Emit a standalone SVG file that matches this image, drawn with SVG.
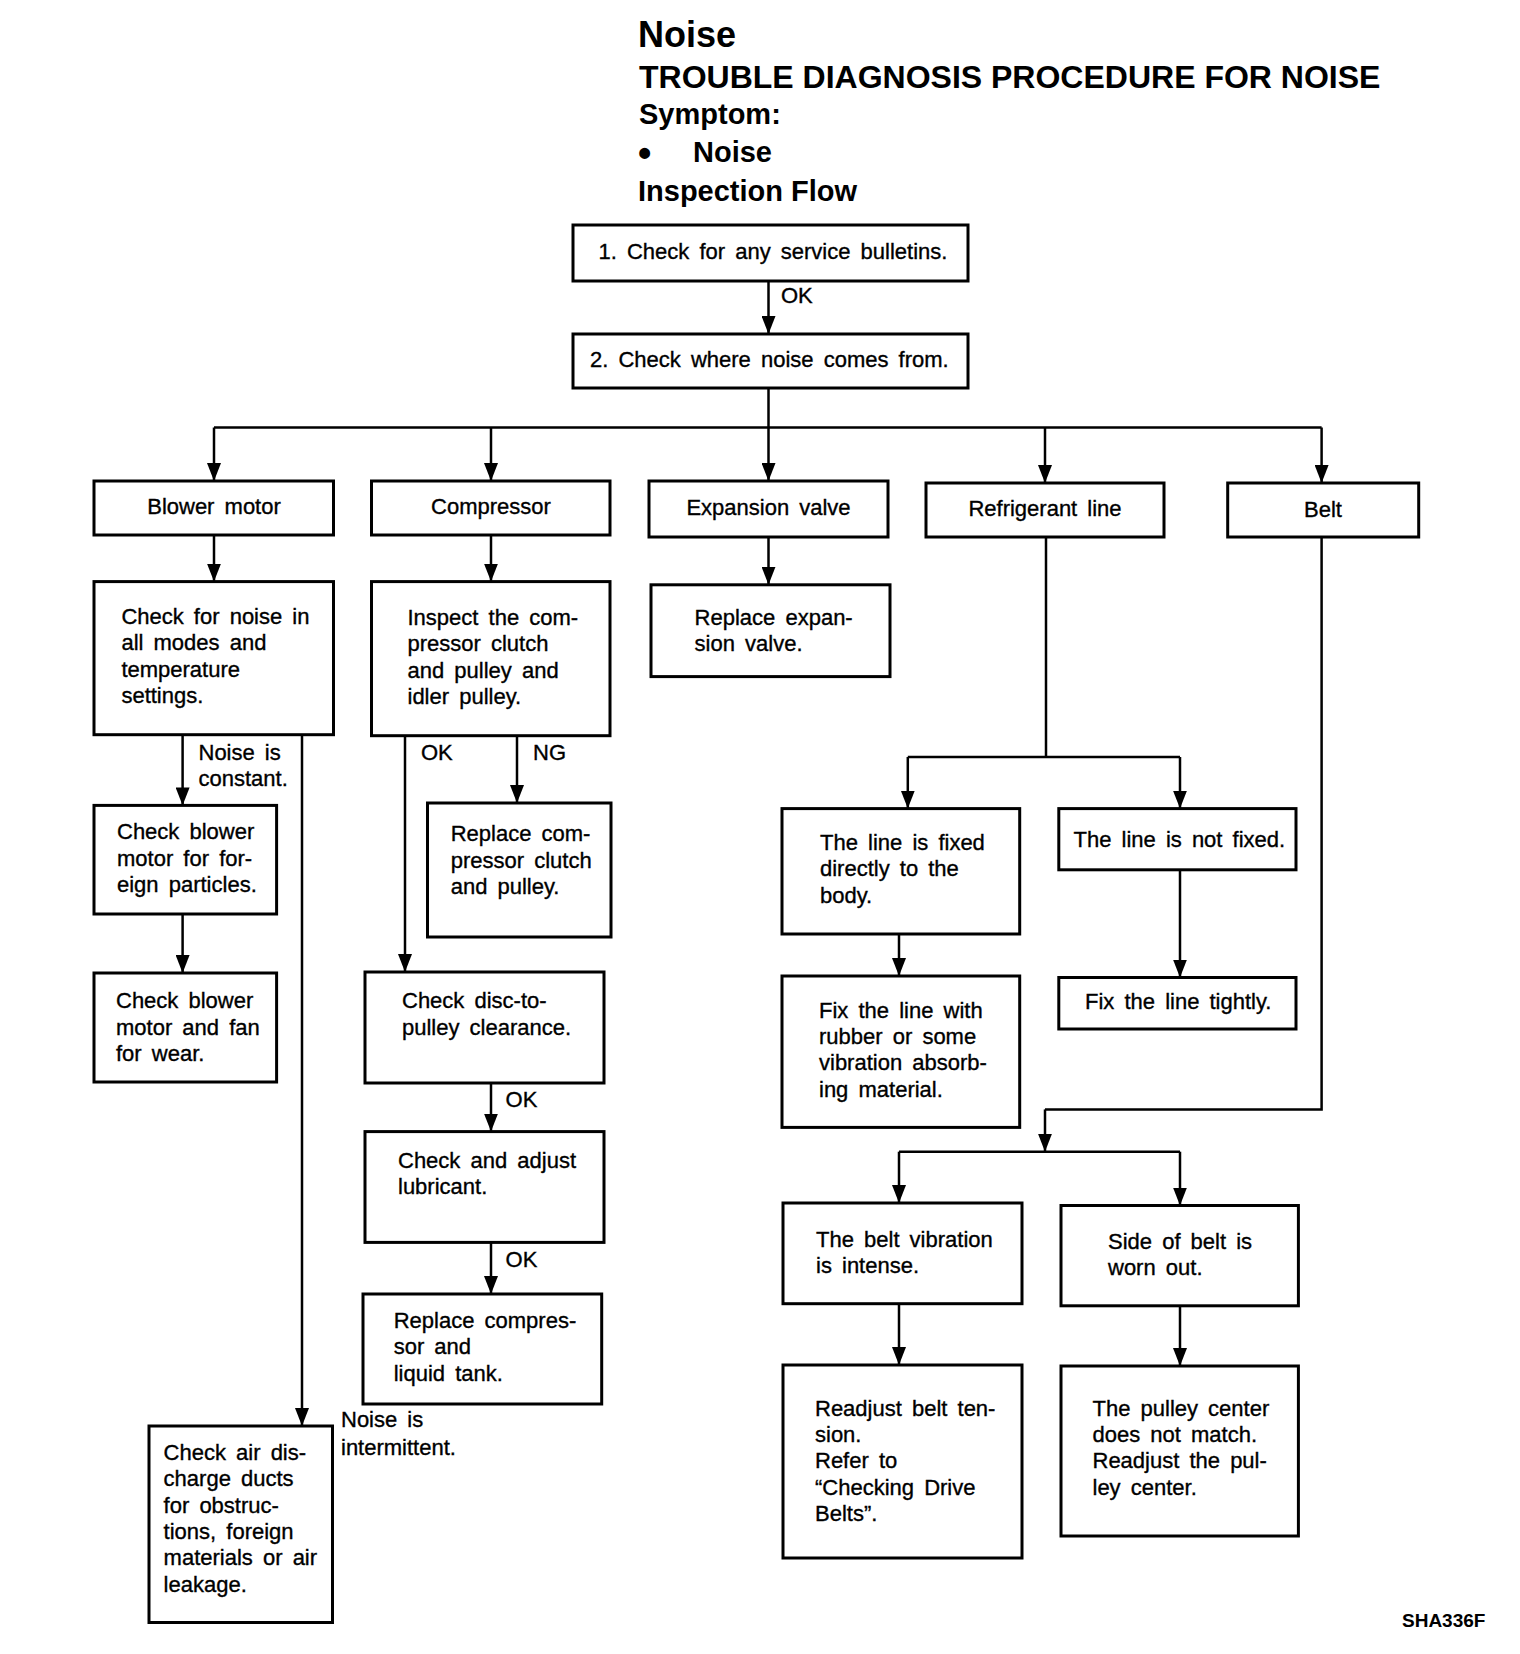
<svg xmlns="http://www.w3.org/2000/svg" width="1520" height="1654" viewBox="0 0 1520 1654">
<style>
.h{font-family:"Liberation Sans",Arial,Helvetica,sans-serif;font-weight:bold;fill:#000}
.t{font-family:"Liberation Sans",Arial,Helvetica,sans-serif;font-size:22px;word-spacing:4px;fill:#000;stroke:#000;stroke-width:0.35}
.c{text-anchor:middle}
.b{fill:#fff;stroke:#000;stroke-width:3}
.l{fill:none;stroke:#000;stroke-width:2.5}
.a{fill:none;stroke:#000;stroke-width:2.5;marker-end:url(#ah)}
</style>
<defs>
<marker id="ah" viewBox="0 -7 18 14" markerWidth="18" markerHeight="14" refX="18" refY="0" orient="auto" markerUnits="userSpaceOnUse">
<path d="M0,-7 L18,0 L0,7 z" fill="#000"/>
</marker>
</defs>
<rect width="1520" height="1654" fill="#fff"/>

<g id="title">
<text class="h" x="638" y="47" font-size="36">Noise</text>
<text class="h" x="639" y="88" font-size="32">TROUBLE DIAGNOSIS PROCEDURE FOR NOISE</text>
<text class="h" x="639" y="124" font-size="29">Symptom:</text>
<text class="h" x="638" y="166" font-size="38">•</text>
<text class="h" x="693" y="162" font-size="29">Noise</text>
<text class="h" x="638" y="201" font-size="29">Inspection Flow</text>
</g>

<g id="connectors">
<line class="a" x1="768.5" y1="281" x2="768.5" y2="334"/>
<line class="l" x1="768.5" y1="388" x2="768.5" y2="427.5"/>
<line class="l" x1="214" y1="427.5" x2="1321.6" y2="427.5"/>
<line class="a" x1="214" y1="427.5" x2="214" y2="481"/>
<line class="a" x1="491" y1="427.5" x2="491" y2="481"/>
<line class="a" x1="768.5" y1="427.5" x2="768.5" y2="481"/>
<line class="a" x1="1045" y1="427.5" x2="1045" y2="483"/>
<line class="a" x1="1321.6" y1="427.5" x2="1321.6" y2="483"/>
<line class="a" x1="214" y1="535" x2="214" y2="581.6"/>
<line class="a" x1="182.6" y1="734.7" x2="182.6" y2="805.4"/>
<line class="a" x1="182.6" y1="914" x2="182.6" y2="973"/>
<line class="a" x1="302" y1="734.7" x2="302" y2="1426"/>
<line class="a" x1="491" y1="535" x2="491" y2="581.6"/>
<line class="a" x1="405" y1="735.7" x2="405" y2="972"/>
<line class="a" x1="517" y1="735.7" x2="517" y2="803"/>
<line class="a" x1="491" y1="1083" x2="491" y2="1131.6"/>
<line class="a" x1="491" y1="1242.4" x2="491" y2="1294"/>
<line class="a" x1="768.5" y1="537" x2="768.5" y2="584.8"/>
<line class="l" x1="1046" y1="537" x2="1046" y2="757"/>
<line class="l" x1="907.8" y1="757" x2="1180" y2="757"/>
<line class="a" x1="907.8" y1="757" x2="907.8" y2="808.6"/>
<line class="a" x1="1180" y1="757" x2="1180" y2="808.6"/>
<line class="a" x1="899" y1="934" x2="899" y2="976"/>
<line class="a" x1="1180" y1="869.8" x2="1180" y2="977.5"/>
<polyline class="l" points="1321.6,537 1321.6,1109.4 1045,1109.4"/>
<line class="a" x1="1045" y1="1109.4" x2="1045" y2="1151.7"/>
<line class="l" x1="899" y1="1151.7" x2="1180" y2="1151.7"/>
<line class="a" x1="899" y1="1151.7" x2="899" y2="1203"/>
<line class="a" x1="1180" y1="1151.7" x2="1180" y2="1205.5"/>
<line class="a" x1="899" y1="1303.7" x2="899" y2="1365"/>
<line class="a" x1="1180" y1="1305.8" x2="1180" y2="1366"/>
<text class="t" x="781" y="303">OK</text>
<text class="t" x="198.5" y="760">Noise is</text>
<text class="t" x="198.5" y="786">constant.</text>
<text class="t" x="341" y="1427">Noise is</text>
<text class="t" x="341" y="1454.6">intermittent.</text>
<text class="t" x="421" y="760">OK</text>
<text class="t" x="533" y="760">NG</text>
<text class="t" x="505.6" y="1107">OK</text>
<text class="t" x="505.6" y="1266.7">OK</text>
</g>

<g id="n1"><rect class="b" x="573" y="225" width="395" height="56"/><text class="t" x="598.5" y="259">1. Check for any service bulletins.</text></g>
<g id="n2"><rect class="b" x="573" y="334" width="395" height="54"/><text class="t" x="590" y="367">2. Check where noise comes from.</text></g>

<g id="blower"><rect class="b" x="94" y="481" width="239.5" height="54"/><text class="t c" x="214" y="514">Blower motor</text></g>
<g id="compressor"><rect class="b" x="371.5" y="481" width="238.5" height="54"/><text class="t c" x="491" y="514">Compressor</text></g>
<g id="expansion"><rect class="b" x="649" y="481" width="239" height="56"/><text class="t c" x="768.5" y="515">Expansion valve</text></g>
<g id="refrigerant"><rect class="b" x="926" y="483" width="238" height="54"/><text class="t c" x="1045" y="516">Refrigerant line</text></g>
<g id="belt"><rect class="b" x="1227.7" y="483" width="191" height="54"/><text class="t c" x="1323" y="517">Belt</text></g>

<g id="b1"><rect class="b" x="94" y="581.6" width="239.5" height="153.1"/>
<text class="t" x="121.4" y="624">Check for noise in</text><text class="t" x="121.4" y="650.2">all modes and</text><text class="t" x="121.4" y="676.6">temperature</text><text class="t" x="121.4" y="703">settings.</text></g>
<g id="b2"><rect class="b" x="94" y="805.4" width="182.6" height="108.6"/>
<text class="t" x="117" y="839">Check blower</text><text class="t" x="117" y="865.6">motor for for-</text><text class="t" x="117" y="892">eign particles.</text></g>
<g id="b3"><rect class="b" x="94" y="973" width="182.6" height="109"/>
<text class="t" x="116" y="1008">Check blower</text><text class="t" x="116" y="1034.5">motor and fan</text><text class="t" x="116" y="1061">for wear.</text></g>
<g id="b4"><rect class="b" x="149" y="1426" width="183.5" height="196.5"/>
<text class="t" x="163.6" y="1460">Check air dis-</text><text class="t" x="163.6" y="1486">charge ducts</text><text class="t" x="163.6" y="1512.7">for obstruc-</text><text class="t" x="163.6" y="1539">tions, foreign</text><text class="t" x="163.6" y="1565.4">materials or air</text><text class="t" x="163.6" y="1592">leakage.</text></g>

<g id="c1"><rect class="b" x="371.5" y="581.6" width="238.5" height="154.1"/>
<text class="t" x="407.5" y="625">Inspect the com-</text><text class="t" x="407.5" y="651">pressor clutch</text><text class="t" x="407.5" y="677.7">and pulley and</text><text class="t" x="407.5" y="704">idler pulley.</text></g>
<g id="c2"><rect class="b" x="427.5" y="803" width="183.5" height="134"/>
<text class="t" x="450.7" y="841">Replace com-</text><text class="t" x="450.7" y="867.7">pressor clutch</text><text class="t" x="450.7" y="894">and pulley.</text></g>
<g id="c3"><rect class="b" x="365" y="972" width="239" height="111"/>
<text class="t" x="402" y="1008">Check disc-to-</text><text class="t" x="402" y="1034.5">pulley clearance.</text></g>
<g id="c4"><rect class="b" x="365" y="1131.6" width="239" height="110.8"/>
<text class="t" x="398" y="1167.5">Check and adjust</text><text class="t" x="398" y="1194">lubricant.</text></g>
<g id="c5"><rect class="b" x="363" y="1294" width="238.7" height="110"/>
<text class="t" x="393.7" y="1328">Replace compres-</text><text class="t" x="393.7" y="1354">sor and</text><text class="t" x="393.7" y="1380.7">liquid tank.</text></g>

<g id="e1"><rect class="b" x="651" y="584.8" width="239" height="91.8"/>
<text class="t" x="694.6" y="625">Replace expan-</text><text class="t" x="694.6" y="651">sion valve.</text></g>

<g id="r1"><rect class="b" x="782" y="808.6" width="237.7" height="125.4"/>
<text class="t" x="820" y="850">The line is fixed</text><text class="t" x="820" y="876">directly to the</text><text class="t" x="820" y="902.5">body.</text></g>
<g id="r2"><rect class="b" x="782" y="976" width="237.7" height="151.4"/>
<text class="t" x="819" y="1017.6">Fix the line with</text><text class="t" x="819" y="1044">rubber or some</text><text class="t" x="819" y="1070">vibration absorb-</text><text class="t" x="819" y="1096.8">ing material.</text></g>
<g id="r3"><rect class="b" x="1058.8" y="808.6" width="237.2" height="61.2"/>
<text class="t" x="1073.5" y="846.6">The line is not fixed.</text></g>
<g id="r4"><rect class="b" x="1058.8" y="977.5" width="237.2" height="51.5"/>
<text class="t" x="1085" y="1009">Fix the line tightly.</text></g>

<g id="t1"><rect class="b" x="783" y="1203" width="239" height="100.7"/>
<text class="t" x="816" y="1246.7">The belt vibration</text><text class="t" x="816" y="1273">is intense.</text></g>
<g id="t2"><rect class="b" x="783" y="1365" width="239" height="193"/>
<text class="t" x="815" y="1415.6">Readjust belt ten-</text><text class="t" x="815" y="1442">sion.</text><text class="t" x="815" y="1468.4">Refer to</text><text class="t" x="815" y="1494.7">“Checking Drive</text><text class="t" x="815" y="1521">Belts”.</text></g>
<g id="t3"><rect class="b" x="1061" y="1205.5" width="237.4" height="100.3"/>
<text class="t" x="1108" y="1248.8">Side of belt is</text><text class="t" x="1108" y="1275">worn out.</text></g>
<g id="t4"><rect class="b" x="1061" y="1366" width="237.4" height="170"/>
<text class="t" x="1092.5" y="1415.6">The pulley center</text><text class="t" x="1092.5" y="1442">does not match.</text><text class="t" x="1092.5" y="1468.4">Readjust the pul-</text><text class="t" x="1092.5" y="1494.7">ley center.</text></g>

<text class="h" x="1402" y="1627" font-size="19">SHA336F</text>
</svg>
